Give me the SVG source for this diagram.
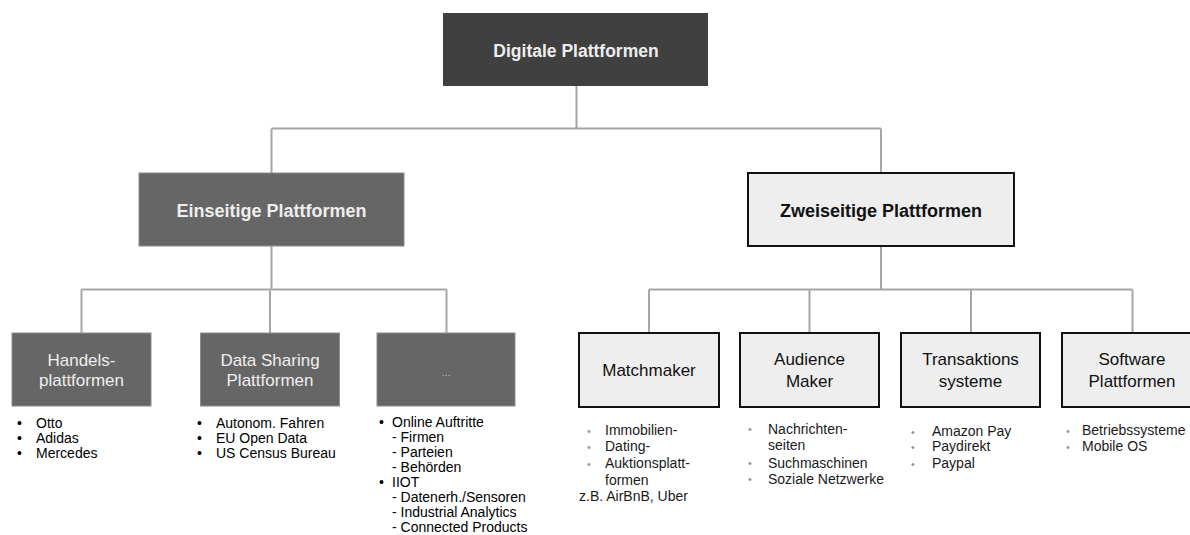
<svg xmlns="http://www.w3.org/2000/svg" width="1190" height="535" viewBox="0 0 1190 535">
<style>
text{font-family:"Liberation Sans",Arial,sans-serif}
.conn{stroke:#a6a6a6;stroke-width:2;fill:none}
.dark{fill:#666666;stroke:#8c8c8c;stroke-width:1}
.light{fill:#eeeeee;stroke:#111111;stroke-width:2}
.bw{font-weight:bold;fill:#eeeeee;text-anchor:middle}
.bb{font-weight:bold;fill:#111111;text-anchor:middle}
.lw{fill:#eeeeee;font-size:17px;text-anchor:middle}
.lb{fill:#111111;font-size:17px;text-anchor:middle}
.li{font-size:14px;fill:#000000}
.ri{font-size:14px;fill:#1a1a1a}
.gb{fill:#999999;font-size:11px}
</style>
<rect width="1190" height="535" fill="#ffffff"/>
<g id="connectors">
<path class="conn" d="M576.5 86V128.5M271.5 128.5H881M271.5 128.5V173M881 128.5V173"/>
<path class="conn" d="M271.5 246V289.5M81.5 289.5H446.5M81.5 289.5V333M270 289.5V333M446.5 289.5V333"/>
<path class="conn" d="M881 246V289.5M649 289.5H1132.5M649 289.5V333M809.5 289.5V333M971 289.5V333M1132.5 289.5V333"/>
</g>
<g id="digitale">
<rect x="443" y="13" width="265" height="73" fill="#404040"/>
<text class="bw" x="576" y="57" font-size="17.5">Digitale Plattformen</text>
</g>
<g id="einseitige">
<rect x="139" y="173" width="265" height="73" class="dark"/>
<text class="bw" x="271.5" y="217" font-size="18">Einseitige Plattformen</text>
</g>
<g id="zweiseitige">
<rect x="748" y="173" width="266" height="73" class="light"/>
<text class="bb" x="881" y="217" font-size="18">Zweiseitige Plattformen</text>
</g>
<g id="handels">
<rect x="12" y="333" width="139" height="73" class="dark"/>
<text class="lw" x="81.5" y="366">Handels-</text>
<text class="lw" x="81.5" y="386">plattformen</text>
<text class="li"><tspan x="17" y="428">•</tspan><tspan x="36" y="428">Otto</tspan><tspan x="17" y="443">•</tspan><tspan x="36" y="443">Adidas</tspan><tspan x="17" y="458">•</tspan><tspan x="36" y="458">Mercedes</tspan></text>
</g>
<g id="datasharing">
<rect x="200.5" y="333" width="139" height="73" class="dark"/>
<text class="lw" x="270" y="366">Data Sharing</text>
<text class="lw" x="270" y="386">Plattformen</text>
<text class="li"><tspan x="197" y="428">•</tspan><tspan x="216" y="428">Autonom. Fahren</tspan><tspan x="197" y="443">•</tspan><tspan x="216" y="443">EU Open Data</tspan><tspan x="197" y="458">•</tspan><tspan x="216" y="458">US Census Bureau</tspan></text>
</g>
<g id="weitere">
<rect x="377" y="333" width="138" height="73" class="dark"/>
<text x="446" y="376" fill="#bbbbbb" font-size="11" text-anchor="middle">...</text>
<text class="li"><tspan x="379" y="427">•</tspan><tspan x="392" y="427">Online Auftritte</tspan><tspan x="392" y="442">- Firmen</tspan><tspan x="392" y="457">- Parteien</tspan><tspan x="392" y="472">- Behörden</tspan><tspan x="379" y="487">•</tspan><tspan x="392" y="487">IIOT</tspan><tspan x="392" y="502">- Datenerh./Sensoren</tspan><tspan x="392" y="517">- Industrial Analytics</tspan><tspan x="392" y="532">- Connected Products</tspan></text>
</g>
<g id="matchmaker">
<rect x="579" y="333" width="140" height="74" class="light"/>
<text class="lb" x="649" y="376">Matchmaker</text>
<text class="gb"><tspan x="587" y="435">•</tspan><tspan x="587" y="451">•</tspan><tspan x="587" y="468">•</tspan></text>
<text class="ri"><tspan x="605" y="435">Immobilien-</tspan><tspan x="605" y="451">Dating-</tspan><tspan x="605" y="468">Auktionsplatt-</tspan><tspan x="605" y="484.5">formen</tspan><tspan x="579" y="501">z.B. AirBnB, Uber</tspan></text>
</g>
<g id="audience">
<rect x="740" y="333" width="139" height="74" class="light"/>
<text class="lb" x="809.5" y="365">Audience</text>
<text class="lb" x="809.5" y="387">Maker</text>
<text class="gb"><tspan x="748" y="433">•</tspan><tspan x="748" y="467">•</tspan><tspan x="748" y="483">•</tspan></text>
<text class="ri"><tspan x="768" y="434">Nachrichten-</tspan><tspan x="768" y="450">seiten</tspan><tspan x="768" y="467.5">Suchmaschinen</tspan><tspan x="768" y="484">Soziale Netzwerke</tspan></text>
</g>
<g id="transaktions">
<rect x="901" y="333" width="139" height="74" class="light"/>
<text class="lb" x="970.5" y="365">Transaktions</text>
<text class="lb" x="970.5" y="387">systeme</text>
<text class="gb"><tspan x="911" y="436">•</tspan><tspan x="911" y="451">•</tspan><tspan x="911" y="468">•</tspan></text>
<text class="ri"><tspan x="932" y="436">Amazon Pay</tspan><tspan x="932" y="451">Paydirekt</tspan><tspan x="932" y="468">Paypal</tspan></text>
</g>
<g id="software">
<rect x="1062" y="333" width="140" height="74" class="light"/>
<text class="lb" x="1132" y="365">Software</text>
<text class="lb" x="1132" y="387">Plattformen</text>
<text class="gb"><tspan x="1066" y="435">•</tspan><tspan x="1066" y="451">•</tspan></text>
<text class="ri"><tspan x="1082" y="435">Betriebssysteme</tspan><tspan x="1082" y="451">Mobile OS</tspan></text>
</g>
</svg>
